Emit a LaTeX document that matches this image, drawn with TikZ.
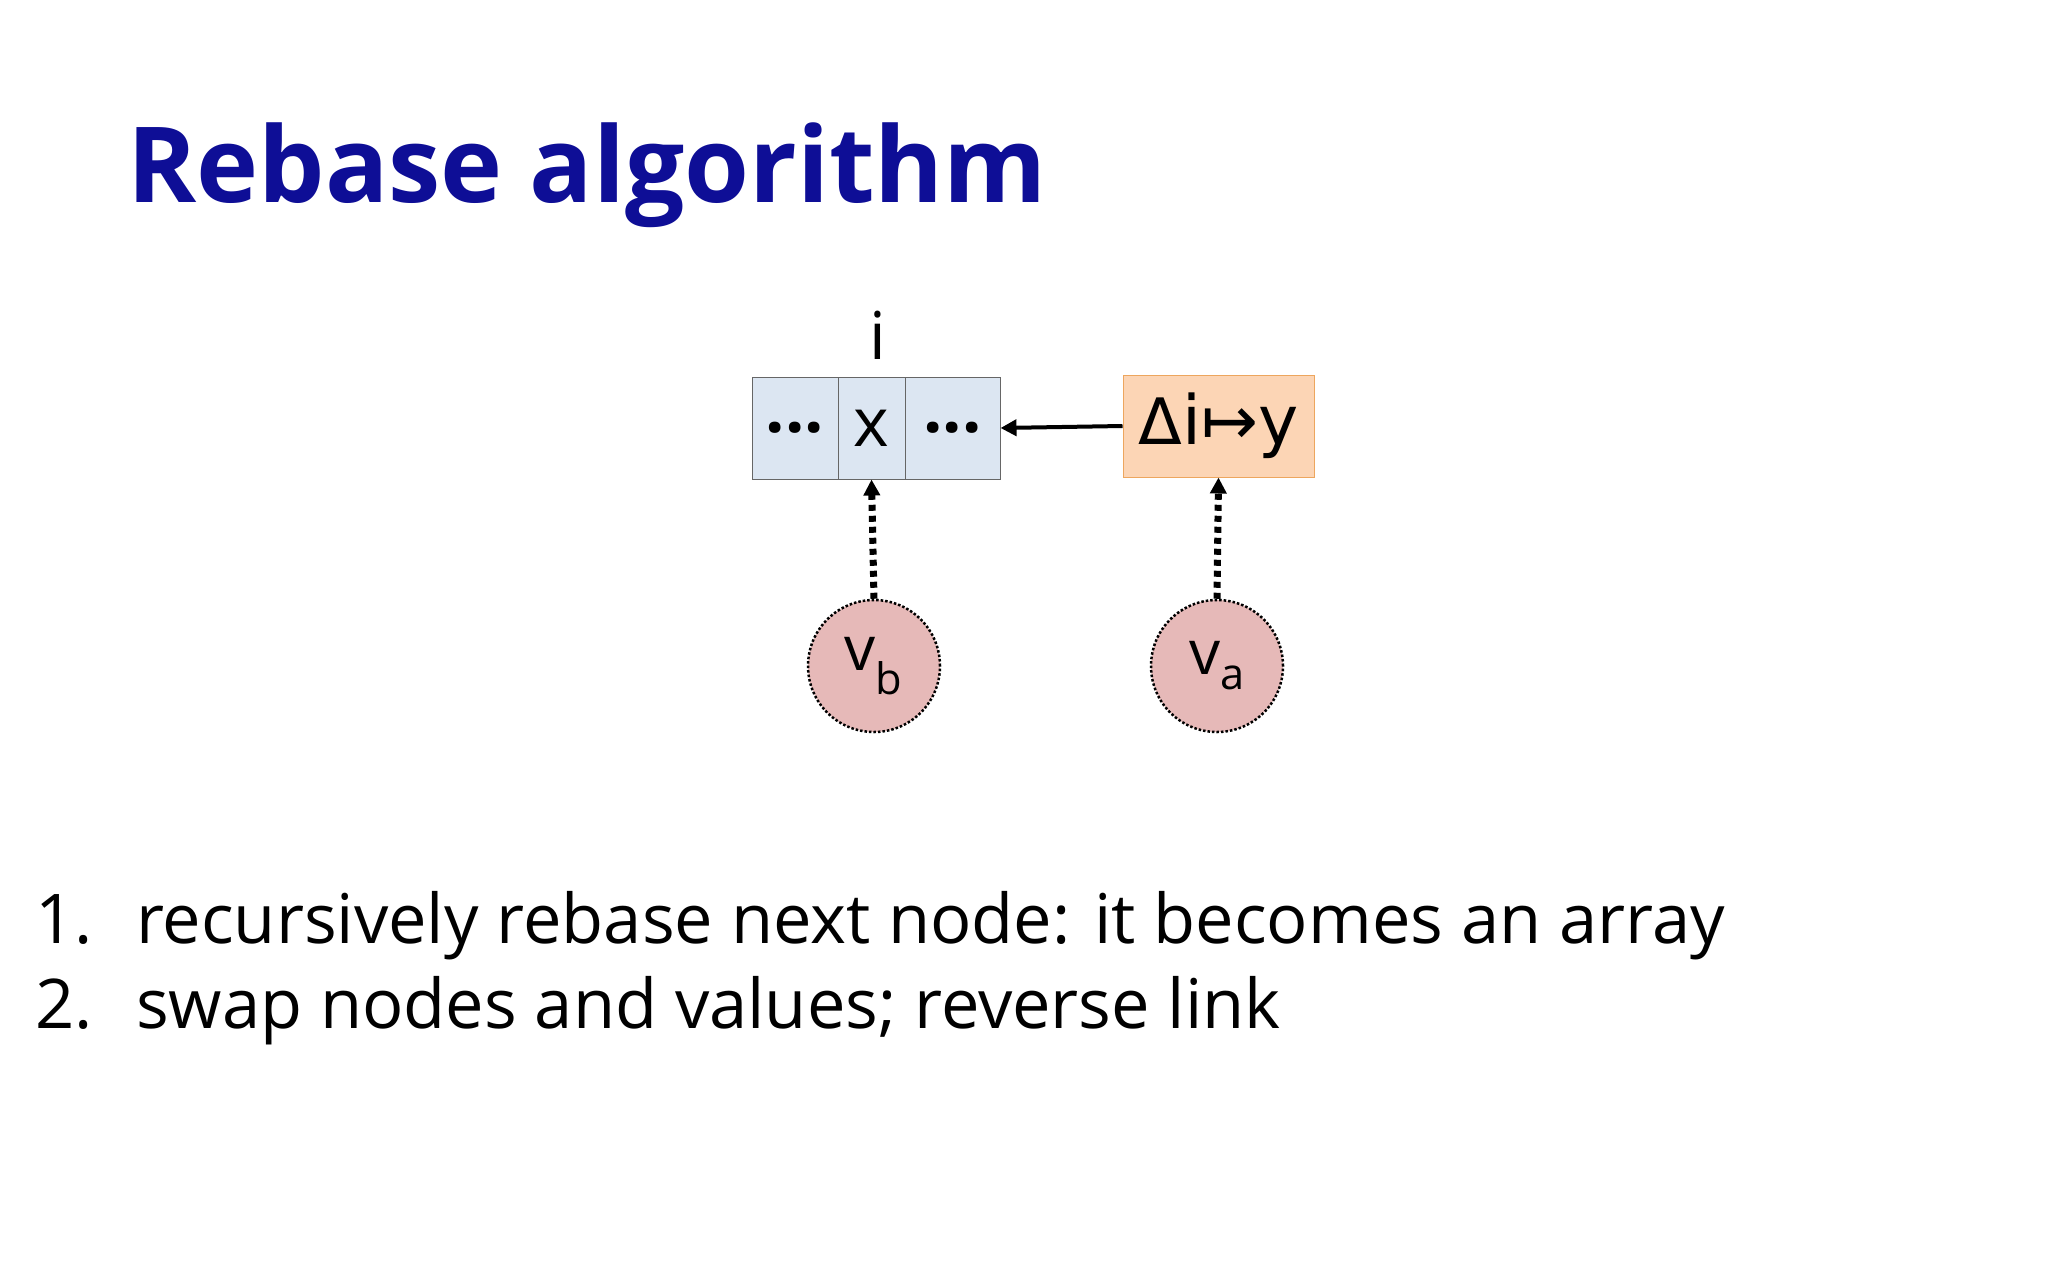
\documentclass[tikz,border=0pt]{standalone}
\usepackage{fontspec}
\setmainfont{Open Sans}
\newfontfamily\symf{DejaVu Sans}
\usetikzlibrary{arrows.meta}
\definecolor{titleblue}{RGB}{14,14,150}
\definecolor{cellblue}{RGB}{220,230,242}
\definecolor{cellorange}{RGB}{252,213,181}
\definecolor{circpink}{RGB}{230,185,184}
\begin{document}
\begin{tikzpicture}[x=1pt,y=-1pt,
  cell/.style={draw=gray!80!black,line width=1pt,fill=cellblue,minimum height=102pt,inner sep=0pt,font=\fontsize{68}{70}\selectfont},
  vnode/.style={circle,draw,dotted,line width=2.5pt,fill=circpink,minimum size=132pt,inner sep=0pt,font=\fontsize{62}{60}\selectfont},
  dotarrow/.style={-{Triangle[length=16pt,width=16pt]},line width=7pt,dash pattern=on 6pt off 5pt},
  txt/.style={anchor=base west,inner sep=0pt,font=\fontsize{68.6}{80}\selectfont}]
\useasboundingbox (0,0) rectangle (2048,1280);
\node[anchor=base west,inner sep=0pt,text=titleblue,font=\fontsize{105}{120}\selectfont\bfseries] (title) at (127,202) {Rebase algorithm};
\node[cell,minimum width=86pt] (c1) at (795,428) {\bfseries ...};
\node[cell,minimum width=67pt] (c2) at (871.5,428) {x};
\node[cell,minimum width=95pt] (c3) at (952.5,428) {\bfseries ...};
\node[inner sep=0pt,anchor=base,font=\fontsize{66}{70}\selectfont] (ilab) at (878,359) {i};
\node[draw=orange!60!brown!70,line width=1pt,fill=cellorange,minimum width=191pt,minimum height=102pt,inner sep=0pt,font=\fontsize{68}{70}\selectfont] (delta) at (1218.5,426) {\symf{\fontsize{64}{70}\selectfont Δ}i{\symf ↦}y};
\node[vnode] (vb) at (874,666) {v\textsubscript{b}};
\node[vnode] (va) at (1217,666) {v\textsubscript{a}};
\draw[-{Triangle[length=16pt,width=16pt]},line width=4pt] (delta.west) -- (c3.east);
\draw[dotarrow] (vb.north) -- (c2.south);
\draw[dotarrow] (va.north) -- (delta.south);
\node[txt] (n1) at (35,943) {1.};
\node[txt] (l1) at (136,943) {recursively rebase next node: it becomes an array};
\node[txt] (n2) at (35,1028) {2.};
\node[txt] (l2) at (136,1028) {swap nodes and values; reverse link};
\end{tikzpicture}
\end{document}
